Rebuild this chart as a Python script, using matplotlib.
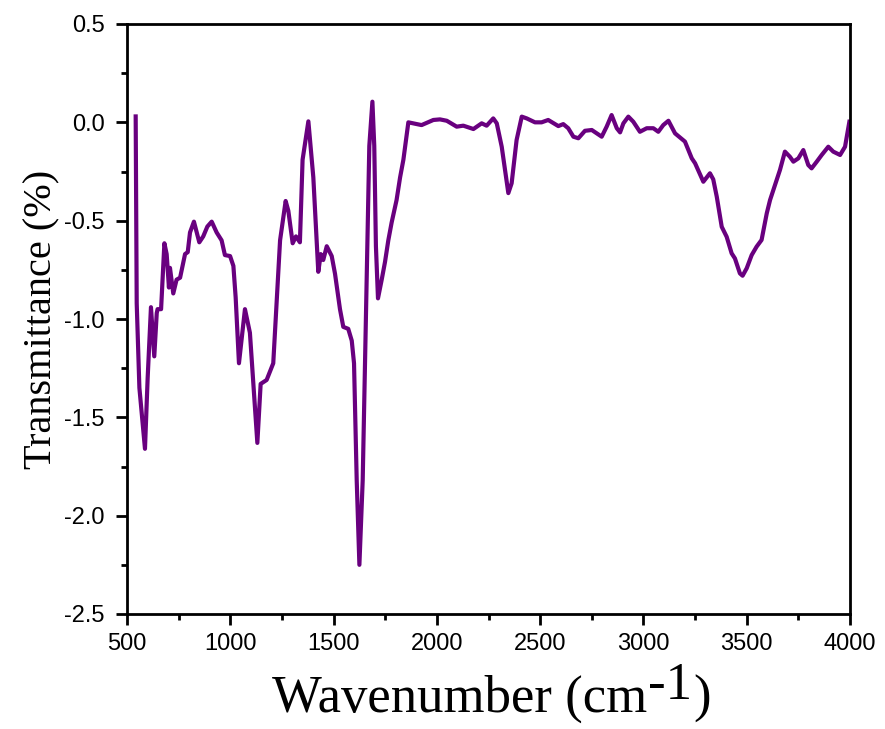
import matplotlib
matplotlib.use('Agg')
import matplotlib.pyplot as plt
from matplotlib.ticker import MultipleLocator, FormatStrFormatter

# FTIR spectrum
wavenumber = [
    542, 547, 560, 579, 587, 600, 616, 632, 644, 648, 665, 681, 692, 703, 708,
    724, 740, 757, 781, 794, 805, 824, 850, 869, 889, 910, 934, 958, 974, 999,
    1015, 1026, 1042, 1071, 1095, 1131, 1147, 1176, 1208, 1241, 1268, 1281,
    1302, 1318, 1337, 1350, 1378, 1402, 1426, 1438, 1450, 1467, 1491, 1507,
    1531, 1547, 1571, 1588, 1599, 1612, 1625, 1641, 1657, 1673, 1688, 1697,
    1705, 1715, 1733, 1749, 1765, 1781, 1805, 1822, 1838, 1862, 1926, 1983,
    2015, 2048, 2096, 2128, 2177, 2217, 2241, 2273, 2290, 2314, 2346, 2362,
    2386, 2411, 2435, 2475, 2507, 2539, 2588, 2612, 2636, 2661, 2685, 2717,
    2750, 2798, 2822, 2846, 2871, 2887, 2903, 2927, 2951, 2983, 3016, 3048,
    3072, 3096, 3121, 3153, 3201, 3234, 3250, 3290, 3322, 3338, 3355, 3379,
    3403, 3427, 3443, 3467, 3480, 3500, 3524, 3548, 3572, 3597, 3613, 3637,
    3661, 3685, 3709, 3726, 3750, 3774, 3798, 3814, 3839, 3863, 3895, 3919,
    3952, 3976, 3997,
]
transmittance = [
    0.03, -0.92, -1.35, -1.57, -1.66, -1.30, -0.94, -1.19, -0.97, -0.95, -0.95,
    -0.615, -0.67, -0.84, -0.74, -0.87, -0.80, -0.79, -0.67, -0.66, -0.56,
    -0.505, -0.61, -0.58, -0.53, -0.505, -0.56, -0.60, -0.675, -0.68, -0.73,
    -0.89, -1.225, -0.95, -1.07, -1.63, -1.33, -1.31, -1.225, -0.60, -0.40,
    -0.45, -0.615, -0.58, -0.61, -0.19, 0.005, -0.28, -0.76, -0.67, -0.70,
    -0.63, -0.68, -0.77, -0.95, -1.04, -1.05, -1.11, -1.225, -1.82, -2.25,
    -1.82, -0.97, -0.12, 0.105, -0.12, -0.63, -0.895, -0.80, -0.71, -0.60,
    -0.51, -0.395, -0.28, -0.19, 0.0, -0.014, 0.012, 0.015, 0.008, -0.022,
    -0.017, -0.034, -0.005, -0.017, 0.02, -0.005, -0.124, -0.36, -0.31,
    -0.09, 0.029, 0.02, 0.0, 0.0, 0.012, -0.019, -0.009, -0.03, -0.073,
    -0.081, -0.043, -0.039, -0.073, -0.022, 0.037, -0.03, -0.051, -0.005,
    0.029, 0.003, -0.048, -0.03, -0.03, -0.048, -0.014, 0.008, -0.056,
    -0.098, -0.183, -0.208, -0.302, -0.259, -0.29, -0.378, -0.531, -0.582,
    -0.666, -0.692, -0.768, -0.78, -0.742, -0.675, -0.632, -0.598, -0.463,
    -0.395, -0.319, -0.242, -0.149, -0.175, -0.20, -0.183, -0.141, -0.217,
    -0.234, -0.20, -0.166, -0.124, -0.149, -0.166, -0.124, 0.003,
]

LINE_COLOR = '#69007f'
W, H = 885, 729

fig = plt.figure(figsize=(W / 100, H / 100), dpi=100)
ax = fig.add_axes([127 / W, 1 - 614 / H, 723 / W, 590 / H])

ax.plot(wavenumber, transmittance, color=LINE_COLOR, linewidth=3.0,
        solid_joinstyle='round')

ax.set_xlim(500, 4000)
ax.set_ylim(-2.5, 0.5)
ax.xaxis.set_major_locator(MultipleLocator(500))
ax.xaxis.set_minor_locator(MultipleLocator(250))
ax.yaxis.set_major_locator(MultipleLocator(0.5))
ax.yaxis.set_minor_locator(MultipleLocator(0.25))
ax.yaxis.set_major_formatter(FormatStrFormatter('%.1f'))

for s in ax.spines.values():
    s.set_linewidth(2.0)
ax.tick_params(which='major', direction='out', length=8, width=2.0,
               labelsize=17, top=False, right=False)
ax.tick_params(which='minor', direction='out', length=4, width=2.0,
               top=False, right=False)
ax.tick_params(axis='x', which='major', pad=6)
ax.tick_params(axis='y', which='major', pad=8)
for lab in ax.get_xticklabels() + ax.get_yticklabels():
    lab.set_family('Liberation Sans')

# y label
ax.set_ylabel('Transmittance (%)', family='Liberation Serif', fontsize=29)
ax.yaxis.set_label_coords(-0.092, 0.5)

# x label: the superscript is almost full size in the original, so build it in pieces
renderer = fig.canvas.get_renderer()
base_y = 1 - 712 / H
t1 = fig.text(272 / W, base_y, 'Wavenumber (cm', family='Liberation Serif',
              fontsize=38, ha='left', va='baseline')
x1 = t1.get_window_extent(renderer).x1
t2 = fig.text((x1 + 1) / W, base_y + 13 / H, '-1', family='Liberation Serif',
              fontsize=38, ha='left', va='baseline')
x2 = t2.get_window_extent(renderer).x1
fig.text((x2 + 1) / W, base_y, ')', family='Liberation Serif',
         fontsize=38, ha='left', va='baseline')

plt.savefig('out.png', dpi=100)
plt.close(fig)
